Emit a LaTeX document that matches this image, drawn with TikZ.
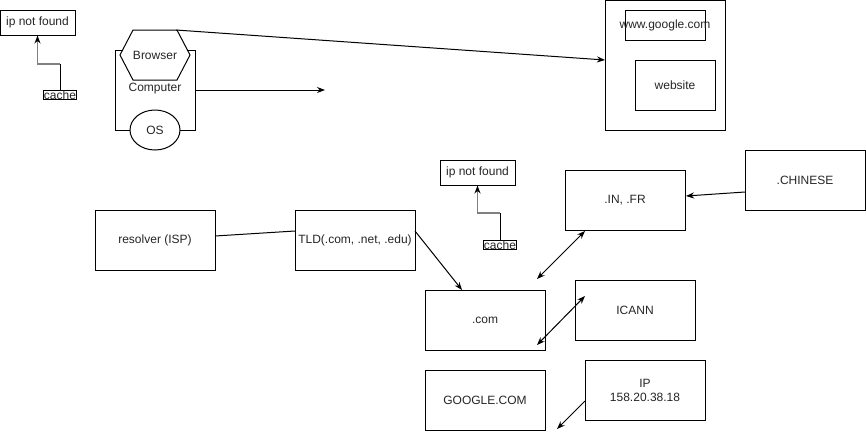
\documentclass[tikz,border=0pt]{standalone}
\usepackage{fontspec}
\setmainfont{Liberation Sans}
\usetikzlibrary{arrows.meta,calc,shapes.geometric}
\begin{document}
\begin{tikzpicture}[x=0.75pt,y=-0.75pt,
  every node/.style={font=\fontsize{9}{10.5}\selectfont, text=black!85},
  box/.style 2 args={draw, line width=0.75pt, fill=white, inner sep=0pt, minimum width=#1*0.75pt, minimum height=#2*0.75pt, align=center},
  lbl/.style={draw, line width=0.6pt, fill=white, inner sep=0.3pt, font=\fontsize{9}{9}\selectfont},
  conn/.style={line width=0.75pt, -{Stealth[length=6pt,width=4.5pt]}},
  dconn/.style={line width=0.75pt, {Stealth[length=6pt,width=4.5pt]}-{Stealth[length=6pt,width=4.5pt]}},
  plain/.style={line width=0.75pt},
  gline/.style={gray, line width=1.3pt, -{Stealth[length=6pt,width=4.5pt,black]}}
]
\useasboundingbox (0,0) rectangle (866,440);

% top-left cache
\node[box={75}{25}] (ip1) at (37.5,22.5) {ip not found};
\node[lbl] (cache1) at (60,95) {cache};
\coordinate (bend1) at ($(cache1.north)+(0,-26)$);
\draw[plain] (cache1.north) -- (bend1);
\draw[gline] (bend1) -| (ip1.south);

% computer
\node[box={80}{80}] (comp) at (155,90) {};
\node at (155,89) {Computer};
\coordinate (hexTR) at (176,30);
\draw[line width=0.75pt, fill=white] (120,55) -- (133,30) -- (177,30) -- (190,55) -- (177,80) -- (133,80) -- cycle;
\node (browser) at (155,55) {Browser};
\node[draw, ellipse, line width=0.75pt, fill=white, minimum width=50*0.75pt, minimum height=40*0.75pt, inner sep=0pt] (os) at (155,130) {OS};
\coordinate (compEnd) at (325,90);
\draw[conn] (comp.east) -- (compEnd);

% google
\node[box={120}{130}] (google) at (665,65) {};
\node[box={80}{30}, fill=none] (www) at (665,25) {};
\node at (665,25) {www.google.com};
\node[box={80}{50}] (website) at (675,85) {website};
\coordinate (gIn) at (605,60);
\draw[conn] (hexTR) -- (gIn);

% second cache
\node[box={75}{25}] (ip2) at (477.5,172.5) {ip not found};
\node[lbl] (cache2) at (500,245) {cache};
\coordinate (bend2) at ($(cache2.north)+(0,-27)$);
\draw[plain] (cache2.north) -- (bend2);
\draw[gline] (bend2) -| (ip2.south);

% DNS boxes
\node[box={120}{60}] (infr) at (625,200) {.IN, .FR};
\node[box={120}{60}] (chinese) at (805,180) {.CHINESE};
\node[box={120}{60}] (resolver) at (155,240) {resolver (ISP)};
\node[box={120}{60}] (tld) at (355,240) {TLD(.com, .net, .edu)};
\node[box={120}{60}] (com) at (485,320) {.com};
\node[box={120}{60}] (icann) at (635,310) {ICANN};
\node[box={120}{60}] (googlecom) at (485,400) {GOOGLE.COM};
\node[box={120}{60}] (ip) at (645,390) {IP\\158.20.38.18};

% connectors
\coordinate (chS) at (745,192);
\coordinate (inE) at (686,196);
\draw[conn] (chS) -- (inE);
\coordinate (resE) at (215,236);
\coordinate (tldW) at (295,231);
\draw[plain] (resE) -- (tldW);
\coordinate (tldE) at (415,231);
\coordinate (comN) at (462,290);
\draw[conn] (tldE) -- (comN);
\coordinate (dA1) at (537,279);
\coordinate (dA2) at (585,231);
\draw[dconn] (dA1) -- (dA2);
\coordinate (dB1) at (537,345);
\coordinate (dB2) at (585,296);
\draw[dconn] (dB1) -- (dB2);
\coordinate (ipS) at (585,401);
\coordinate (ipE) at (557,429);
\draw[conn] (ipS) -- (ipE);
\end{tikzpicture}
\end{document}
